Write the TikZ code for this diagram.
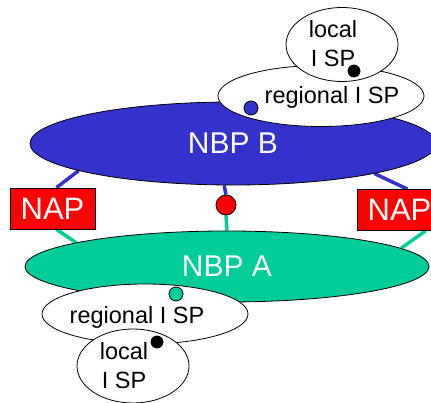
\documentclass[tikz,border=0pt]{standalone}
\usepackage{fontspec}
\setmainfont{Liberation Sans}
\usetikzlibrary{shapes.geometric}
\pgfdeclarelayer{bg}
\pgfsetlayers{bg,main}
\definecolor{nbpblue}{HTML}{3333CC}
\definecolor{nbpgreen}{HTML}{00CC99}
\begin{document}
\begin{tikzpicture}[x=1pt,y=-1pt,
  nbp/.style={ellipse, draw=black, line width=0.8pt, inner sep=0pt, text=white,
    font=\fontsize{30}{30}\selectfont},
  isp/.style={ellipse, draw=black, fill=white, line width=0.8pt, inner sep=0pt},
  isptext/.style={inner sep=0pt, align=center, font=\fontsize{23.5}{29}\selectfont},
  nap/.style={rectangle, draw=black, fill=red, line width=0.8pt, inner sep=0pt,
    minimum width=85pt, minimum height=41pt, text=white, font=\fontsize{31}{31}\selectfont},
  dot/.style={circle, draw=black, line width=0.8pt, inner sep=0pt},
  bluel/.style={draw=nbpblue, line width=3.5pt},
  greenl/.style={draw=nbpgreen, line width=3.5pt}]
\useasboundingbox (0,0) rectangle (431,403);
\clip (0,0) rectangle (431,403);
% backbones
\node[nbp, fill=nbpblue, minimum width=406pt, minimum height=83pt] (nbpB) at (233,143.5) {NBP B};
\node[nbp, fill=nbpgreen, minimum width=404pt, minimum height=71pt] (nbpA) at (227,266.5) {NBP A};
% NAPs
\node[nap] (napL) at (52.5,208.5) {NAP};
\node[nap] (napR) at (399.5,210) {NAP};
\node[dot, fill=red, minimum size=20pt] (red) at (226,205) {};
% top ISPs
\node[isp, minimum width=206pt, minimum height=61pt] (regT) at (321,96) {};
\node[isptext] (regTt) at (332,97) {regional I SP};
\node[isp, minimum width=112pt, minimum height=74pt] (locT) at (342,44.5) {};
\node[isptext] (locTt) at (333,44) {local\\I SP};
\node[dot, fill=nbpblue, minimum size=14pt] (bdot) at (251,108) {};
\node[dot, fill=black, minimum size=12pt] (kdotT) at (354,71) {};
% bottom ISPs
\node[isp, minimum width=206pt, minimum height=60pt] (regB) at (145,314) {};
\node[isptext] (regBt) at (137,317) {regional I SP};
\node[isp, minimum width=112pt, minimum height=74pt] (locB) at (133,366) {};
\node[isptext] (locBt) at (124,366) {local\\I SP};
\node[dot, fill=nbpgreen, minimum size=14pt] (gdot) at (176,294) {};
\node[dot, fill=black, minimum size=12pt] (kdotB) at (157,342) {};
% connectors
\begin{pgfonlayer}{bg}
\draw[bluel] (nbpB.190.8) -- ([xshift=4pt]napL.north);
\draw[bluel] (nbpB.348.8) -- ([xshift=8pt]napR.north);
\draw[bluel] (nbpB.258) -- (red.north);
\draw[greenl] (red.south) -- (nbpA.north);
\draw[greenl] ([xshift=4pt]napL.south) -- (nbpA.171);
\draw[greenl] ([xshift=26pt]napR.south) -- (nbpA.6);
\end{pgfonlayer}
\end{tikzpicture}
\end{document}
